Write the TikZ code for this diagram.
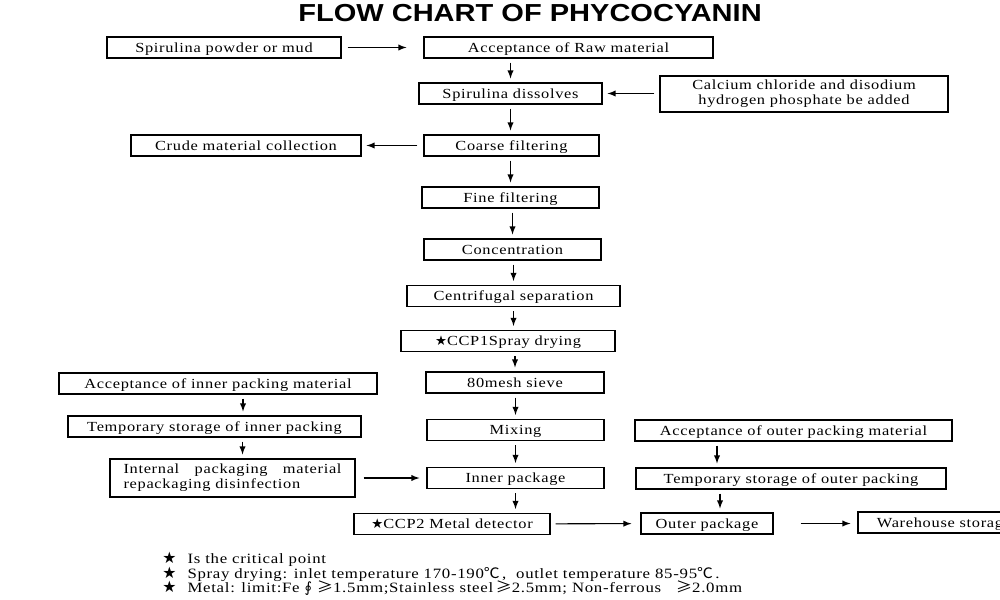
\documentclass[tikz,border=0pt]{standalone}
\usepackage{fontspec}
\setmainfont{Liberation Serif}[FakeStretch=1.18,LetterSpace=5]
\newfontfamily\titlefont{Liberation Sans}
\newfontfamily\symfont{DejaVu Sans}
\newfontfamily\cjk{Noto Sans CJK SC}[FakeStretch=1.1]
\newcommand{\starmark}{{\symfont\fontsize{7.6}{8}\selectfont ★}}
\newcommand{\bigstar}{{\symfont\fontsize{9}{9}\selectfont ★}}
\newcommand{\degc}{{\cjk\fontsize{8.2}{8}\selectfont ℃}}
\newcommand{\geqmark}{{\cjk\fontsize{8.4}{8}\selectfont ≥}}
\tikzset{
    stepbox/.style={draw,semithick,minimum height=4.2mm,inner sep=1pt,
        text height=5.2pt,text depth=0pt,font=\fontsize{7.9}{8}\selectfont},
    twobox/.style={draw,semithick,inner sep=1pt,font=\fontsize{7.9}{8.4}\selectfont},
    flow/.style={-latex,semithick,shorten <=0.8mm,shorten >=0.8mm},
    note/.style={anchor=west,inner sep=0pt,text height=5.4pt,text depth=0pt,
        font=\fontsize{8.1}{8}\selectfont}
}
\begin{document}
\begin{tikzpicture}[x=0.2mm,y=-0.2mm]
    \useasboundingbox (0,0) rectangle (1000,600);
    \clip (0,0) rectangle (1000,600);
    % title
    \node (title) at (530,13)
        {\scalebox{1.18}[1]{\titlefont\bfseries\fontsize{14}{16}\selectfont FLOW CHART OF PHYCOCYANIN}};
    % main line
    \node[stepbox,minimum width=46.8mm] (powder) at (224,47.5) {Spirulina powder or mud};
    \node[stepbox,minimum width=57.8mm] (raw) at (568.5,47.5) {Acceptance of Raw material};
    \node[stepbox,minimum width=36.6mm] (dissolve) at (510.5,93.5) {Spirulina dissolves};
    \node[twobox,minimum width=57.6mm,minimum height=7.2mm,align=center] (calcium) at (804,94)
        {Calcium chloride and disodium\\hydrogen phosphate be added};
    \node[stepbox,minimum width=46mm] (crude) at (246,145.5) {Crude material collection};
    \node[stepbox,minimum width=35mm] (coarse) at (511.5,145.5) {Coarse filtering};
    \node[stepbox,minimum width=35.4mm] (fine) at (510.5,197.5) {Fine filtering};
    \node[stepbox,minimum width=35.4mm] (conc) at (512.5,249.5) {Concentration};
    \node[stepbox,minimum width=42.6mm] (centri) at (513.5,296) {Centrifugal separation};
    \node[stepbox,minimum width=42.8mm] (spray) at (508,341) {\starmark CCP1Spray drying};
    \node[stepbox,minimum width=35.6mm] (sieve) at (515,382.5) {80mesh sieve};
    \node[stepbox,minimum width=35.4mm] (mixing) at (515.5,430) {Mixing};
    \node[stepbox,minimum width=35.4mm] (inner) at (515.5,478) {Inner package};
    \node[stepbox,minimum width=39.2mm] (metal) at (452,524) {\starmark CCP2 Metal detector};
    % inner packing
    \node[stepbox,minimum width=63.6mm] (innacc) at (218,383.5) {Acceptance of inner packing material};
    \node[stepbox,minimum width=58.6mm] (innstore) at (214.5,426.5) {Temporary storage of inner packing};
    \node[twobox,minimum width=49mm,minimum height=7.6mm,text width=43.6mm,align=justify] (disinf) at (232.5,478)
        {Internal packaging material repackaging disinfection};
    % outer packing
    \node[stepbox,minimum width=63.4mm] (outacc) at (793.5,430.5) {Acceptance of outer packing material};
    \node[stepbox,minimum width=62mm] (outstore) at (791,478.5) {Temporary storage of outer packing};
    \node[stepbox,minimum width=26.4mm] (outer) at (707,523.5) {Outer package};
    \node[stepbox,minimum width=34.4mm] (store) at (944,522.5) {Warehouse storage};
    % arrows
    \draw[flow,shorten <=1.2mm,shorten >=3.4mm] (powder) -- (raw);
    \draw[flow] (raw.south -| dissolve.north) -- (dissolve.north);
    \draw[flow,shorten <=1mm,shorten >=1mm] (calcium.west |- dissolve) -- (dissolve.east);
    \draw[flow] (dissolve.south) -- (dissolve.south |- coarse.north);
    \draw[flow,shorten <=1.2mm,shorten >=1mm] (coarse) -- (crude);
    \draw[flow] (coarse.south -| fine.north) -- (fine.north);
    \draw[flow] (fine.south -| conc.north) -- (conc.north);
    \draw[flow] (conc.south -| centri.north) -- (centri.north);
    \draw[flow] (centri.south) -- (centri.south |- spray.north);
    \draw[flow] (spray.south -| sieve.north) -- (sieve.north);
    \draw[flow] (sieve.south -| mixing.north) -- (mixing.north);
    \draw[flow] (mixing.south) -- (inner.north);
    \draw[flow] (inner.south) -- (inner.south |- metal.north);
    \draw[flow] ([xshift=5mm]innacc.south) -- ([xshift=5mm]innacc.south |- innstore.north);
    \draw[flow] ([xshift=2mm]disinf.north |- innstore.south) -- ([xshift=2mm]disinf.north);
    \draw[flow,shorten <=1.6mm,shorten >=1.4mm] (disinf.east |- inner) -- (inner.west);
    \draw[flow] ([xshift=2mm]outer.north |- outacc.south) -- ([xshift=2mm]outer.north |- outstore.north);
    \draw[flow] ([xshift=2.6mm]outer.north |- outstore.south) -- ([xshift=2.6mm]outer.north);
    \draw[flow,shorten <=1mm,shorten >=1.8mm] (metal) -- (outer);
    \draw[flow,shorten <=5.4mm,shorten >=1.4mm] (outer.east) -- (outer.east -| store.west);
    % notes
    \node[note] (note1) at (162,559) {\bigstar\hspace{2.2mm}Is the critical point};
    \node[note] (note2) at (162,573.5) {\bigstar\hspace{2.2mm}Spray drying: inlet temperature 170-190\degc\,, \ outlet temperature 85-95\degc\,.};
    \node[note] (note3) at (162,587.5) {\bigstar\hspace{2.2mm}Metal: limit:Fe {\symfont ∮} \geqmark1.5mm;Stainless steel\,\geqmark2.5mm; Non-ferrous \ \ \geqmark2.0mm};
\end{tikzpicture}
\end{document}
